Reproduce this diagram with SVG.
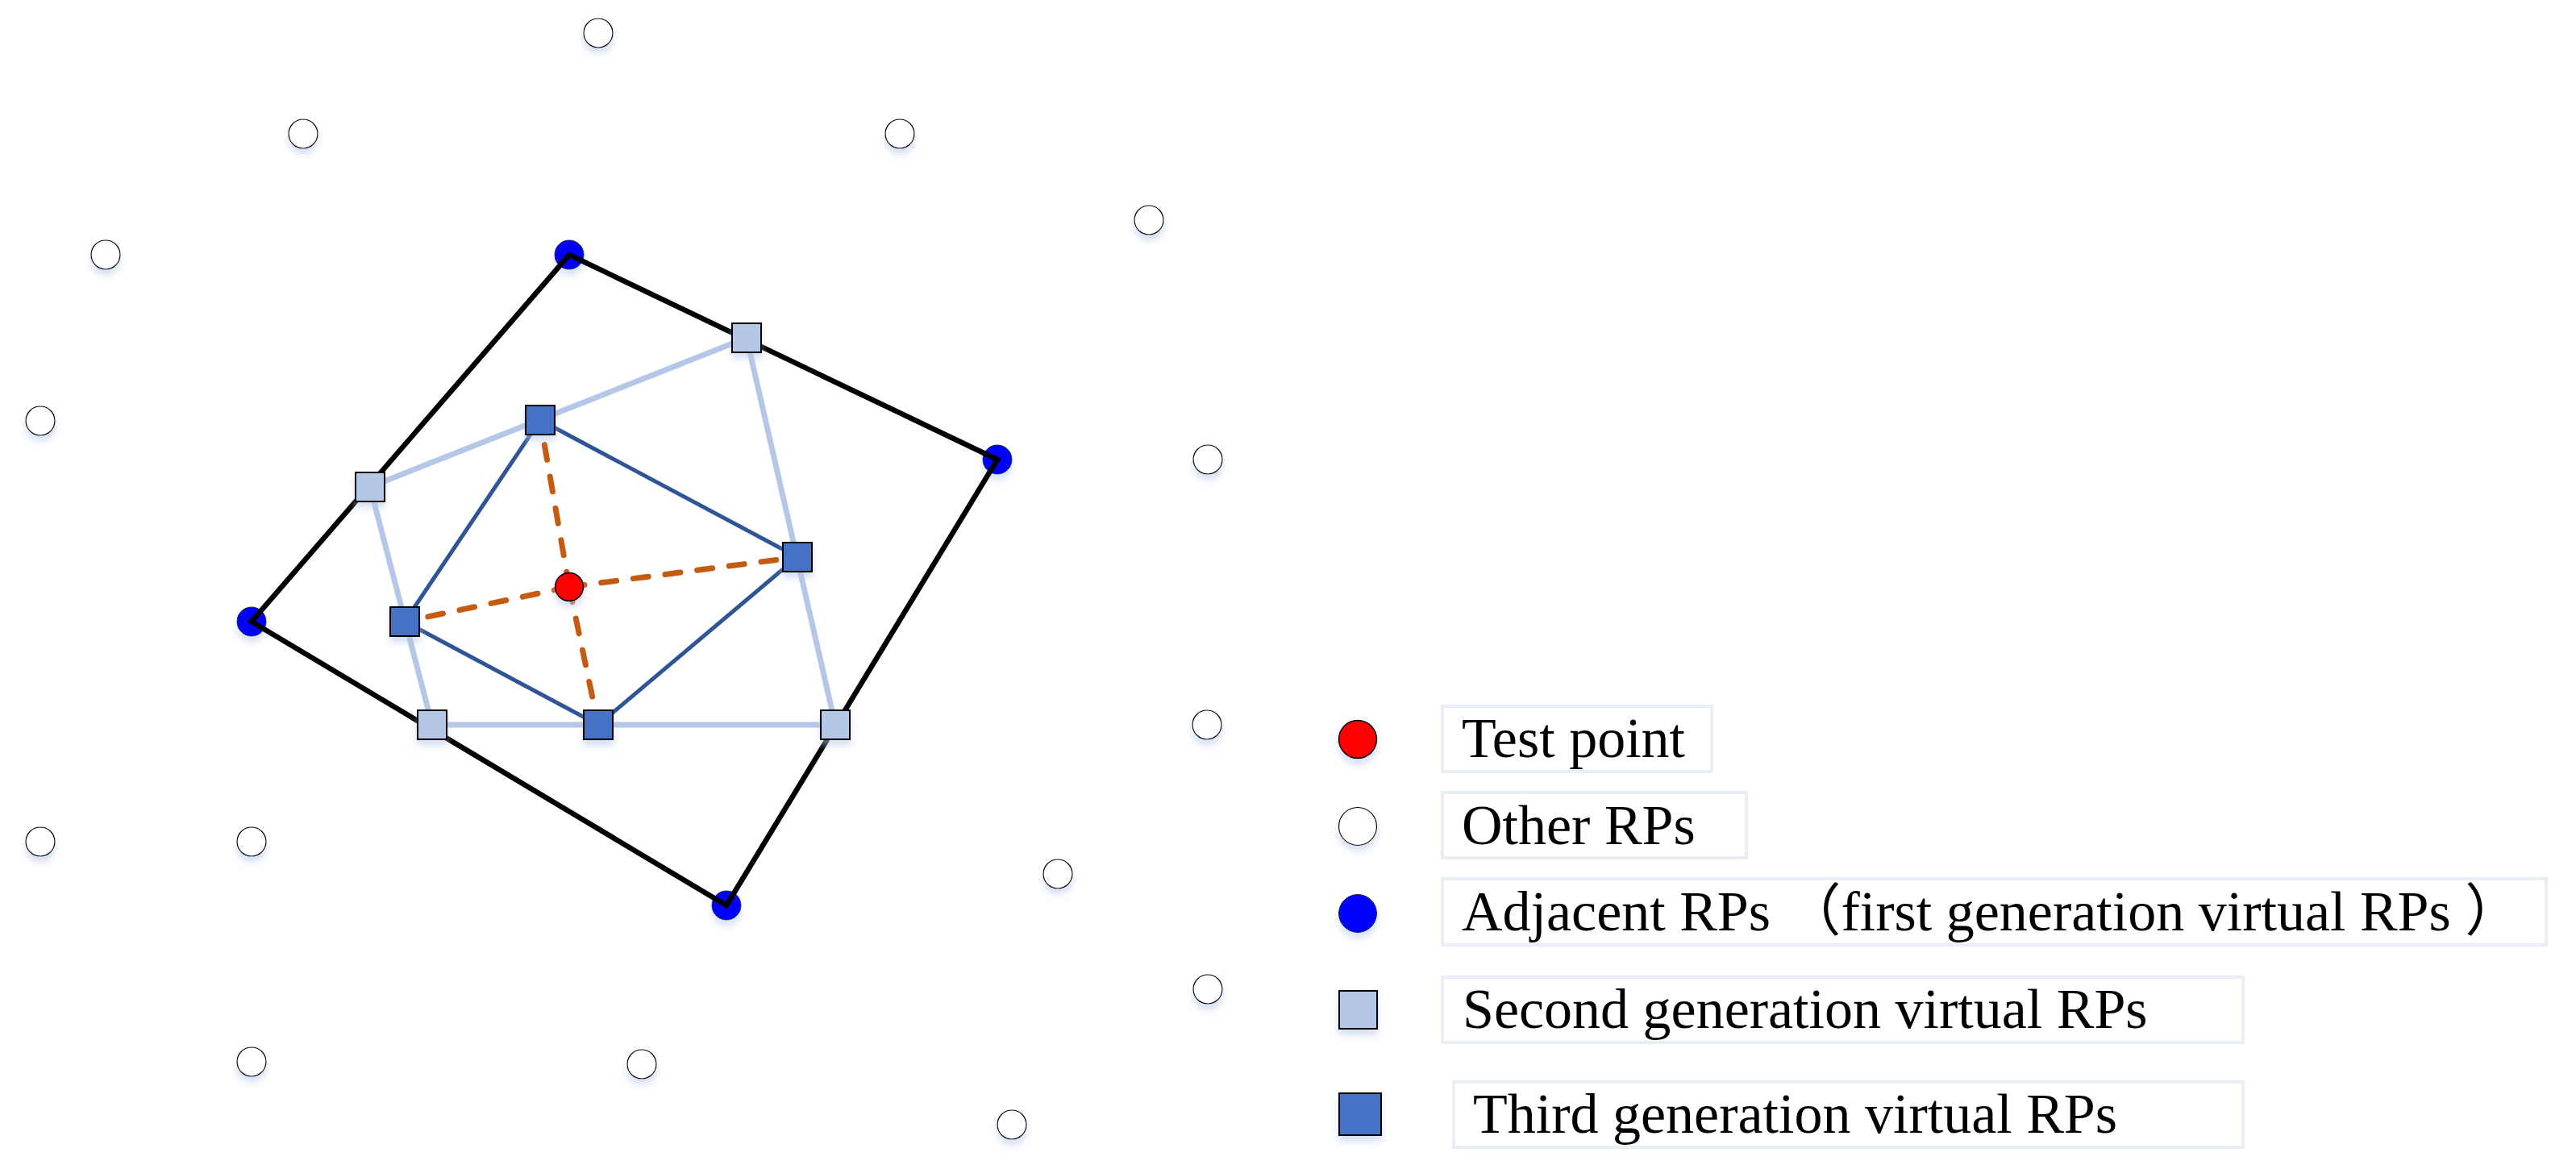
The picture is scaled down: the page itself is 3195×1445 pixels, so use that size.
<svg xmlns="http://www.w3.org/2000/svg" width="3195" height="1445" viewBox="0 0 3195 1445">
<defs>
<filter id="sh" x="-60%" y="-60%" width="220%" height="240%">
<feDropShadow dx="0" dy="7" stdDeviation="4" flood-color="#b4c7e7" flood-opacity="0.55"/>
</filter>
</defs>
<style>
.other{fill:#fff;stroke:#000;stroke-width:1.2;filter:url(#sh)}
.adj{fill:#0000ff;stroke:#1a1a4a;stroke-width:1;filter:url(#sh)}
.test{fill:#ff0000;stroke:#000;stroke-width:1.5;filter:url(#sh)}
.sq2{fill:#b4c7e7;stroke:#000;stroke-width:2;filter:url(#sh)}
.sq3{fill:#4472c4;stroke:#000;stroke-width:2;filter:url(#sh)}
.e1{fill:none;stroke:#000;stroke-width:6.5;stroke-linejoin:miter}
.e2{fill:none;stroke:#b4c7e7;stroke-width:7}
.e3{fill:none;stroke:#2f5597;stroke-width:5}
.ed{fill:none;stroke:#c55a11;stroke-width:7;stroke-linecap:round;stroke-dasharray:19 21}
.box{fill:#fff;stroke:#e9edf4;stroke-width:4}
.lbl{font-family:"Liberation Serif","Noto Sans CJK SC",serif;font-size:70px;fill:#000}
</style>
<rect width="3195" height="1445" fill="#fff"/>
<g id="other-rps">
<circle class="other" cx="742" cy="41" r="18"/>
<circle class="other" cx="376" cy="166" r="18"/>
<circle class="other" cx="1116" cy="166" r="18"/>
<circle class="other" cx="1425" cy="273" r="18"/>
<circle class="other" cx="131" cy="316" r="18"/>
<circle class="other" cx="50" cy="522" r="18"/>
<circle class="other" cx="1498" cy="570" r="18"/>
<circle class="other" cx="1497" cy="899" r="18"/>
<circle class="other" cx="50" cy="1044" r="18"/>
<circle class="other" cx="312" cy="1044" r="18"/>
<circle class="other" cx="1312" cy="1084" r="18"/>
<circle class="other" cx="1498" cy="1227" r="18"/>
<circle class="other" cx="312" cy="1317" r="18"/>
<circle class="other" cx="796" cy="1320" r="18"/>
<circle class="other" cx="1255" cy="1395" r="18"/>
</g>
<g id="adjacent-rps">
<circle id="a1" class="adj" cx="706" cy="316" r="18"/>
<circle id="a2" class="adj" cx="1237" cy="570" r="18"/>
<circle id="a3" class="adj" cx="901" cy="1123" r="18"/>
<circle id="a4" class="adj" cx="312" cy="771" r="18"/>
</g>
<g id="connectors">
<polygon class="e1" points="706,316 1237,570 901,1123 312,771"/>
<polygon class="e2" points="926,419 1036,899 536,899 459,604"/>
<polygon class="e3" points="670,521 989,691 742,899 502,771"/>
<line class="ed" x1="706" y1="728" x2="670" y2="521"/>
<line class="ed" x1="706" y1="728" x2="989" y2="691"/>
<line class="ed" x1="706" y1="728" x2="742" y2="899"/>
<line class="ed" x1="706" y1="728" x2="502" y2="771"/>
</g>
<g id="second-gen">
<rect class="sq2" x="908" y="401" width="36" height="36"/>
<rect class="sq2" x="1018" y="881" width="36" height="36"/>
<rect class="sq2" x="518" y="881" width="36" height="36"/>
<rect class="sq2" x="441" y="586" width="36" height="36"/>
</g>
<g id="third-gen">
<rect class="sq3" x="652" y="503" width="36" height="36"/>
<rect class="sq3" x="971" y="673" width="36" height="36"/>
<rect class="sq3" x="724" y="881" width="36" height="36"/>
<rect class="sq3" x="484" y="753" width="36" height="36"/>
</g>
<g id="test-point">
<circle class="test" cx="706" cy="728" r="17.5"/>
</g>
<g id="legend">
<g id="legend-test">
<circle class="test" cx="1684" cy="917" r="23.5"/>
<rect class="box" x="1789" y="876" width="334" height="81"/>
<text class="lbl" x="1813" y="939">Test point</text>
</g>
<g id="legend-other">
<circle class="other" cx="1684" cy="1025" r="23.5"/>
<rect class="box" x="1789" y="983" width="377" height="81"/>
<text class="lbl" x="1813" y="1047">Other RPs</text>
</g>
<g id="legend-adjacent">
<circle class="adj" cx="1684" cy="1133" r="23.5"/>
<rect class="box" x="1789" y="1090" width="1369" height="82"/>
<text class="lbl" x="1813" y="1154">Adjacent RPs （first generation virtual RPs ）</text>
</g>
<g id="legend-second">
<rect class="sq2" x="1661" y="1229" width="47" height="47"/>
<rect class="box" x="1789" y="1212" width="993" height="81"/>
<text class="lbl" x="1814" y="1275">Second generation virtual RPs</text>
</g>
<g id="legend-third">
<rect class="sq3" x="1661" y="1356" width="52" height="52"/>
<rect class="box" x="1803" y="1342" width="979" height="81"/>
<text class="lbl" x="1827" y="1405">Third generation virtual RPs</text>
</g>
</g>
</svg>
